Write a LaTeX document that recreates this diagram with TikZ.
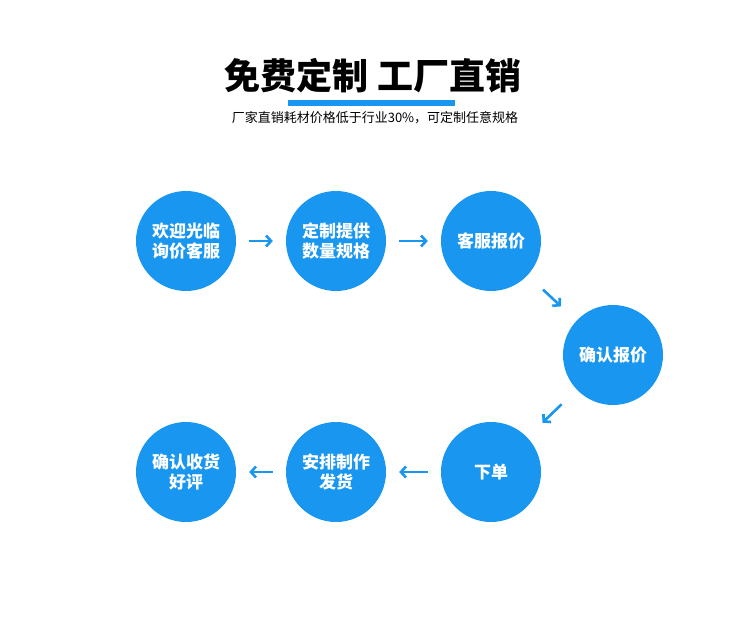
\documentclass[tikz,border=0pt]{standalone}
\usepackage{fontspec}
\setmainfont{Noto Sans CJK SC}
\usetikzlibrary{arrows.meta}
\definecolor{stepblue}{RGB}{24,150,240}

\begin{document}
\begin{tikzpicture}[x=1pt,y=-1pt,
  stepnode/.style={circle,fill=stepblue,minimum size=100pt,inner sep=0pt,
    text=white,font=\bfseries\fontsize{17}{20}\selectfont,align=center},
  flow/.style={stepblue,line width=2.6pt,-{Straight Barb[length=5pt,width=11pt]},
    shorten <=13pt,shorten >=13pt}]
\useasboundingbox[fill=white] (0,0) rectangle (750,626);

% Title
\node (title) at (373,76) {\bfseries\fontsize{36}{40}\selectfont 免费定制\ 工厂直销};
\fill[stepblue] (288,100) rectangle (455,106);
\node (sub) at (375,118) {\fontsize{13}{15}\selectfont 厂家直销耗材价格低于行业30\%，可定制任意规格};

% Steps
\node[stepnode] (s1) at (186,241) {欢迎光临\\询价客服};
\node[stepnode] (s2) at (336,241) {定制提供\\数量规格};
\node[stepnode] (s3) at (491,241) {客服报价};
\node[stepnode] (s4) at (613,355) {确认报价};
\node[stepnode] (s5) at (491,472) {下单};
\node[stepnode] (s6) at (336,472) {安排制作\\发货};
\node[stepnode] (s7) at (186,472) {确认收货\\好评};

% Arrows
\draw[flow] (s1) -- (s2);
\draw[flow] (s2) -- (s3);
\draw[flow,shorten <=21pt,shorten >=21pt] (s3) -- (s4);
\draw[flow,shorten <=21pt,shorten >=21pt] (s4) -- (s5);
\draw[flow] (s5) -- (s6);
\draw[flow] (s6) -- (s7);
\end{tikzpicture}
\end{document}
